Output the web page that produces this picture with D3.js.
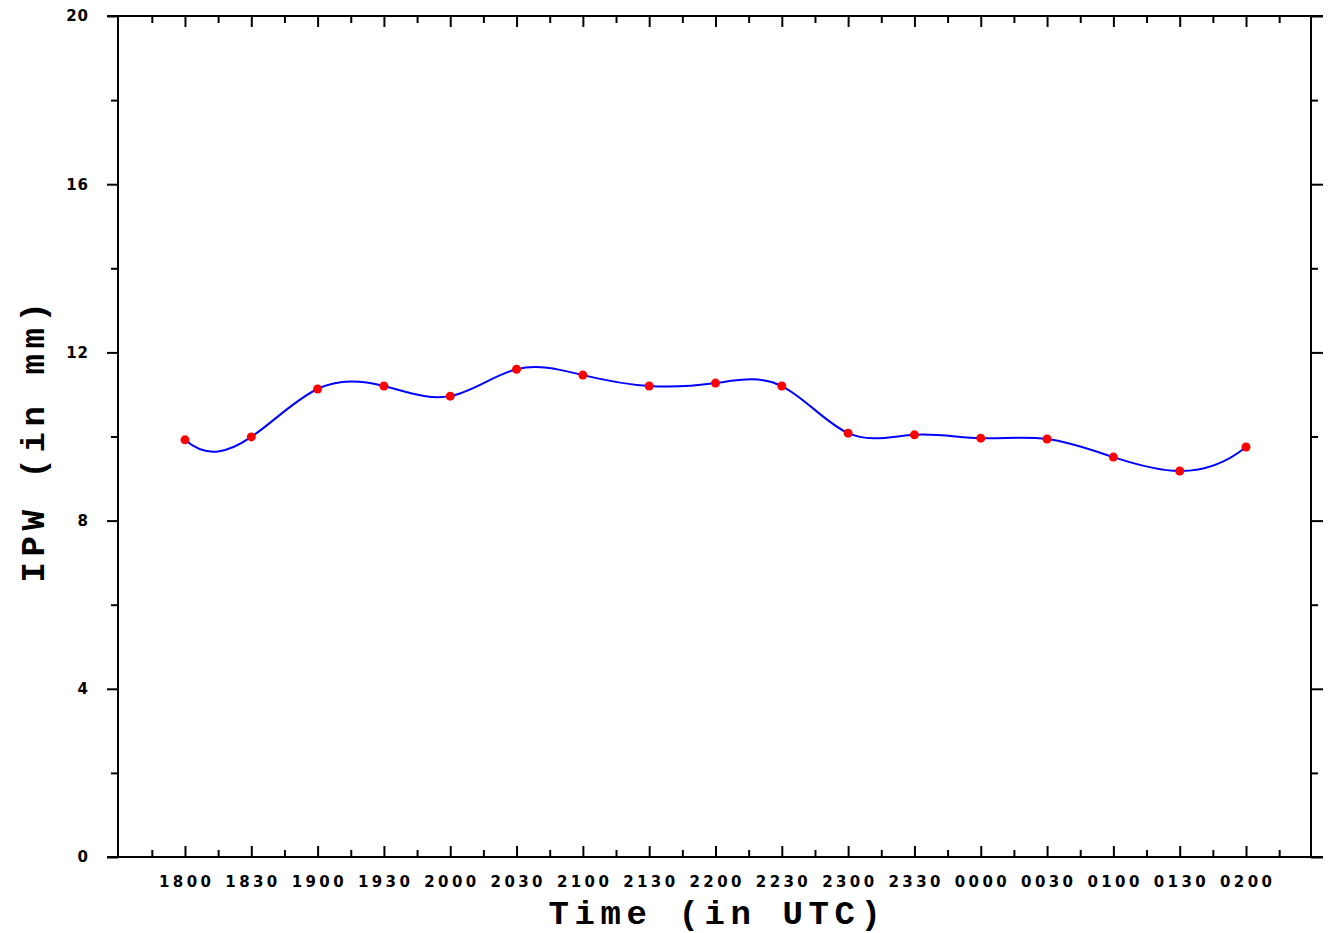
<!DOCTYPE html>
<html>
<head>
<meta charset="utf-8">
<script src="https://cdn.jsdelivr.net/npm/d3@7"></script>
<style>
  body { margin: 0; background: #fff; }
  .tick text { font-family: "DejaVu Sans", sans-serif; font-weight: bold; }
  .title { font-family: "Liberation Mono", "Courier New", monospace; font-weight: bold; }
</style>
</head>
<body>
<div id="chart"></div>
<script>
// data
var times = ["1800", "1830", "1900", "1930", "2000", "2030", "2100", "2130", "2200",
             "2230", "2300", "2330", "0000", "0030", "0100", "0130", "0200"];
var ipw = [9.92, 9.99, 11.13, 11.20, 10.96, 11.60, 11.46, 11.20, 11.27,
           11.20, 10.08, 10.04, 9.96, 9.94, 9.51, 9.18, 9.75];
var yTicks = [0, 4, 8, 12, 16, 20];
var yMinor = [2, 6, 10, 14, 18];

var W = 1332, H = 933;
var mLeft = 118, mRight = 1311, mTop = 16, mBottom = 857;

// cubic spline with not-a-knot ends, as a d3 curve
function solve(A, b) {
  var n = b.length;
  for (var i = 0; i < n; i++) {
    var p = i;
    for (var r = i + 1; r < n; r++) if (Math.abs(A[r][i]) > Math.abs(A[p][i])) p = r;
    var t = A[i]; A[i] = A[p]; A[p] = t;
    t = b[i]; b[i] = b[p]; b[p] = t;
    for (var r = i + 1; r < n; r++) {
      var f = A[r][i] / A[i][i];
      for (var c = i; c < n; c++) A[r][c] -= f * A[i][c];
      b[r] -= f * b[i];
    }
  }
  var m = new Array(n);
  for (var i = n - 1; i >= 0; i--) {
    var s = b[i];
    for (var c = i + 1; c < n; c++) s -= A[i][c] * m[c];
    m[i] = s / A[i][i];
  }
  return m;
}

function secondDerivs(v) {
  var n = v.length;
  var A = [], b = [];
  for (var i = 0; i < n; i++) { A.push(new Array(n).fill(0)); b.push(0); }
  A[0][0] = 1; A[0][1] = -2; A[0][2] = 1;
  A[n - 1][n - 3] = 1; A[n - 1][n - 2] = -2; A[n - 1][n - 1] = 1;
  for (var i = 1; i < n - 1; i++) {
    A[i][i - 1] = 1; A[i][i] = 4; A[i][i + 1] = 1;
    b[i] = 6 * (v[i - 1] - 2 * v[i] + v[i + 1]);
  }
  return solve(A, b);
}

function NotAKnot(context) { this._context = context; }
NotAKnot.prototype = {
  areaStart: function() {}, areaEnd: function() {},
  lineStart: function() { this._x = []; this._y = []; },
  point: function(x, y) { this._x.push(+x); this._y.push(+y); },
  lineEnd: function() {
    var xs = this._x, ys = this._y, n = xs.length, ctx = this._context;
    ctx.moveTo(xs[0], ys[0]);
    if (n < 4) { for (var i = 1; i < n; i++) ctx.lineTo(xs[i], ys[i]); return; }
    var mx = secondDerivs(xs), my = secondDerivs(ys);
    for (var i = 0; i < n - 1; i++) {
      var dx0 = (xs[i + 1] - xs[i]) - (2 * mx[i] + mx[i + 1]) / 6,
          dx1 = (xs[i + 1] - xs[i]) + (mx[i] + 2 * mx[i + 1]) / 6,
          dy0 = (ys[i + 1] - ys[i]) - (2 * my[i] + my[i + 1]) / 6,
          dy1 = (ys[i + 1] - ys[i]) + (my[i] + 2 * my[i + 1]) / 6;
      ctx.bezierCurveTo(xs[i] + dx0 / 3, ys[i] + dy0 / 3,
                        xs[i + 1] - dx1 / 3, ys[i + 1] - dy1 / 3,
                        xs[i + 1], ys[i + 1]);
    }
  }
};
function curveNotAKnot(context) { return new NotAKnot(context); }

var svg = d3.select("#chart").append("svg")
    .attr("width", W)
    .attr("height", H);

var x = d3.scaleLinear().domain([-1.01, 16.98]).range([mLeft, mRight]);
var y = d3.scaleLinear().domain([0, 20]).range([mBottom, mTop]);

var majorX = d3.range(0, times.length);
var minorX = d3.range(-0.5, 17, 1);

// frame lines
svg.append("g").attr("stroke", "#000").attr("stroke-width", 2)
  .selectAll("line")
  .data([[107, mTop, 1323, mTop], [107, mBottom, 1323, mBottom], [mLeft, mTop, mLeft, mBottom], [mRight, mTop, mRight, mBottom]])
  .enter().append("line")
  .attr("x1", function(d) { return d[0]; })
  .attr("y1", function(d) { return d[1]; })
  .attr("x2", function(d) { return d[2]; })
  .attr("y2", function(d) { return d[3]; });

// bottom axis (ticks inward)
svg.append("g")
    .attr("transform", "translate(0," + mBottom + ")")
    .call(d3.axisTop(x).tickValues(majorX).tickSize(11).tickFormat(""));
svg.append("g")
    .attr("transform", "translate(0," + mBottom + ")")
    .call(d3.axisTop(x).tickValues(minorX).tickSize(7).tickFormat(""));

// labels under bottom axis
svg.append("g").selectAll("text")
  .data(majorX)
  .enter().append("text")
  .attr("x", function(d) { return x(d) + 1.7; })
  .attr("y", 887)
  .attr("text-anchor", "middle")
  .style("font-family", "'DejaVu Sans', sans-serif")
  .style("font-weight", "bold")
  .style("font-size", "15px")
  .style("letter-spacing", "3.4px")
  .text(function(d) { return times[d]; });

// top axis (ticks inward)
svg.append("g")
    .attr("transform", "translate(0," + mTop + ")")
    .call(d3.axisBottom(x).tickValues(majorX).tickSize(11).tickFormat(""));
svg.append("g")
    .attr("transform", "translate(0," + mTop + ")")
    .call(d3.axisBottom(x).tickValues(minorX).tickSize(7).tickFormat(""));

// left axis (ticks outward)
var yLeft = svg.append("g")
    .attr("transform", "translate(" + mLeft + ",0)")
    .call(d3.axisLeft(y).tickValues(yTicks).tickSize(11).tickPadding(18));
yLeft.selectAll("text")
    .style("font-size", "15px")
    .style("letter-spacing", "1px")
    .attr("fill", "#000");
svg.append("g")
    .attr("transform", "translate(" + mLeft + ",0)")
    .call(d3.axisLeft(y).tickValues(yMinor).tickSize(7).tickFormat(""));

// right axis (ticks outward)
svg.append("g")
    .attr("transform", "translate(" + mRight + ",0)")
    .call(d3.axisRight(y).tickValues(yTicks).tickSize(12).tickFormat(""));
svg.append("g")
    .attr("transform", "translate(" + mRight + ",0)")
    .call(d3.axisRight(y).tickValues(yMinor).tickSize(7).tickFormat(""));

svg.selectAll(".domain").remove();
svg.selectAll(".tick line").attr("stroke", "#000").attr("stroke-width", 2);

// curve
var line = d3.line()
    .x(function(d, i) { return x(i); })
    .y(function(d) { return y(d); })
    .curve(curveNotAKnot);

svg.append("path")
    .datum(ipw)
    .attr("d", line)
    .attr("fill", "none")
    .attr("stroke", "#0000ff")
    .attr("stroke-width", 2);

svg.append("g").selectAll("circle")
  .data(ipw)
  .enter().append("circle")
  .attr("cx", function(d, i) { return x(i); })
  .attr("cy", function(d) { return y(d); })
  .attr("r", 4.5)
  .attr("fill", "#ff0000");

// axis titles
svg.append("text")
    .attr("class", "title")
    .attr("x", (mLeft + mRight) / 2 + 3)
    .attr("y", 924)
    .attr("text-anchor", "middle")
    .style("font-size", "34px")
    .style("letter-spacing", "5.6px")
    .text("Time (in UTC)");

svg.append("text")
    .attr("class", "title")
    .attr("transform", "translate(44," + ((mTop + mBottom) / 2 + 3) + ") rotate(-90)")
    .attr("text-anchor", "middle")
    .style("font-size", "34px")
    .style("letter-spacing", "5.6px")
    .text("IPW (in mm)");
</script>
</body>
</html>
